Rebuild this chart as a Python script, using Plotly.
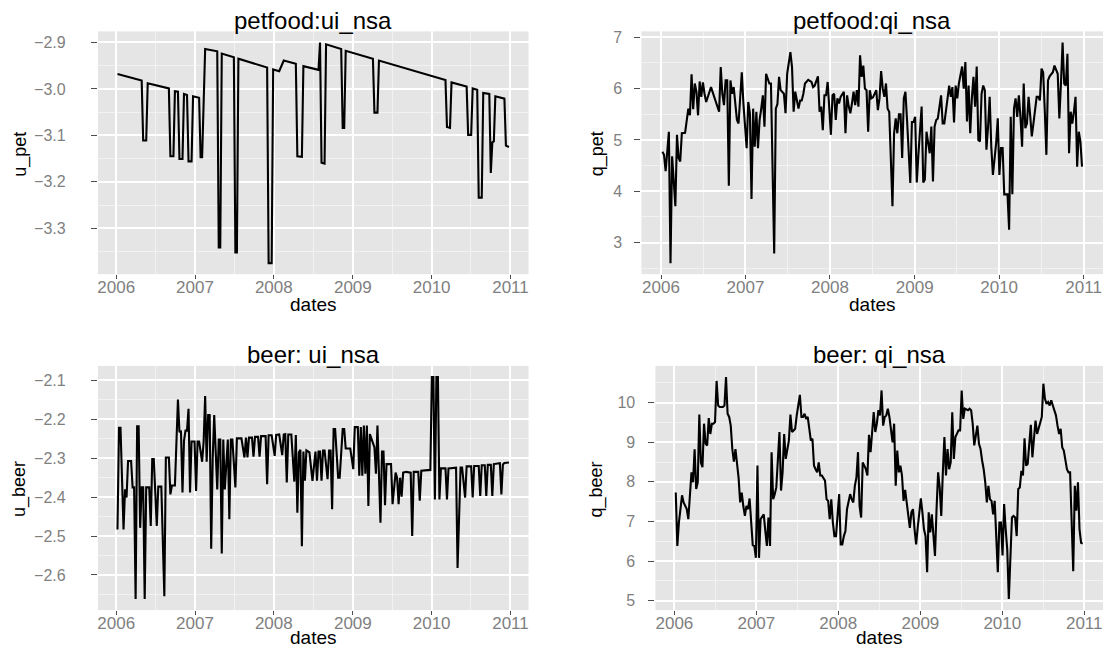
import numpy as np
import pandas as pd
import plotly.graph_objects as go

# ---------------- data (weekly observations, week index from 2006-01-07) ----------------
START = "2006-01-07"

pet_u_week = [0, 16, 17, 19, 20, 34, 35, 37, 38, 40, 41, 43, 44, 46, 47, 49, 50, 54, 55, 56, 58,
              66, 67, 68, 69, 77, 78, 79, 80, 99, 100, 102, 103, 107, 110, 118, 119, 122, 123,
              133, 134, 135, 137, 138, 148, 149, 150, 151, 169, 170, 172, 173, 217, 218, 220, 221,
              231, 232, 234, 235, 238, 239, 241, 242, 246, 247, 248, 249, 250, 256, 257, 259]
pet_u = [-2.968, -2.982, -3.111, -3.111, -2.988, -2.999, -3.145, -3.145, -3.005, -3.006, -3.151,
         -3.151, -3.011, -3.013, -3.156, -3.156, -3.016, -3.019, -3.147, -3.147, -2.914, -2.919,
         -3.341, -3.341, -2.924, -2.932, -3.352, -3.352, -2.935, -2.954, -3.375, -3.375, -2.958,
         -2.962, -2.939, -2.946, -3.145, -3.146, -2.951, -2.959, -2.900, -3.159, -3.161, -2.904,
         -2.914, -3.084, -3.084, -2.918, -2.935, -3.051, -3.051, -2.939, -2.981, -3.082, -3.084,
         -2.986, -2.995, -3.099, -3.099, -2.999, -3.002, -3.234, -3.234, -3.009, -3.011, -3.181,
         -3.115, -3.113, -3.016, -3.021, -3.122, -3.125]

pet_q_week = [0, 1, 2, 4, 5, 6, 8, 9, 10, 11, 12, 14, 16, 17, 18, 19, 20, 21, 22, 23, 24, 25, 26, 27,
              30, 33, 35, 36, 37, 38, 39, 40, 41, 42, 43, 44, 46, 47, 49, 50, 51, 52, 53, 54, 55, 56,
              57, 58, 59, 60, 61, 62, 63, 64, 66, 67, 69, 70, 71, 72, 73, 75, 76, 77, 79, 80, 81, 82,
              84, 85, 86, 87, 88, 90, 92, 93, 94, 96, 97, 98, 99, 100, 101, 102, 104, 105, 106, 107,
              108, 109, 110, 112, 113, 114, 115, 116, 117, 118, 119, 120, 121, 122, 123, 124, 125,
              126, 127, 128, 129, 130, 132, 133, 134, 135, 136, 137, 138, 139, 140, 142, 143, 144,
              145, 146, 147, 148, 149, 150, 151, 153, 154, 155, 156, 157, 158, 160, 161, 162, 163,
              164, 165, 166, 167, 168, 169, 170, 172, 173, 174, 176, 177, 178, 179, 180, 181, 182,
              183, 185, 186, 187, 188, 189, 190, 191, 192, 193, 194, 195, 196, 197, 198, 199, 200,
              201, 202, 203, 204, 206, 207, 208, 209, 210, 211, 213, 214, 215, 216, 217, 218, 219,
              220, 221, 222, 223, 224, 225, 226, 227, 228, 229, 230, 231, 232, 233, 234, 235, 236,
              237, 238, 239, 241, 242, 244, 245, 246, 247, 248, 249, 250, 251, 252, 253, 254, 255,
              256, 257, 258, 259]
pet_q = [4.77, 4.71, 4.39, 5.16, 2.60, 4.68, 3.71, 5.10, 4.65, 4.58, 5.13, 5.14, 5.61, 5.48, 6.28,
         5.60, 6.10, 5.94, 5.48, 6.14, 5.84, 6.12, 5.90, 5.74, 6.03, 5.74, 5.55, 6.42, 5.90, 5.68,
         6.16, 6.16, 4.11, 6.16, 5.90, 6.03, 5.39, 5.32, 6.32, 5.71, 5.26, 4.84, 5.74, 5.52, 3.85,
         5.61, 4.87, 5.55, 4.84, 5.39, 5.61, 5.87, 5.26, 6.29, 6.10, 6.10, 2.79, 5.61, 5.70, 6.23,
         5.97, 5.90, 5.52, 6.29, 6.71, 6.42, 5.55, 5.94, 5.61, 5.77, 5.77, 5.90, 6.10, 6.17, 6.13,
         6.03, 6.06, 6.24, 5.55, 5.65, 5.19, 5.87, 5.87, 6.13, 5.10, 5.87, 5.90, 5.39, 5.81, 5.71,
         5.84, 5.94, 5.13, 5.87, 5.65, 5.52, 5.71, 5.94, 5.68, 5.97, 5.65, 6.65, 6.23, 6.45, 6.00,
         5.97, 5.16, 5.97, 5.81, 5.83, 5.97, 5.58, 5.81, 6.34, 6.00, 5.84, 6.10, 5.61, 5.55, 3.71,
         5.13, 5.42, 5.13, 5.50, 5.50, 4.65, 5.81, 5.94, 5.39, 4.16, 5.35, 5.35, 5.45, 4.17, 4.71,
         5.65, 4.17, 4.23, 5.16, 4.97, 4.74, 5.26, 4.19, 5.26, 5.39, 5.42, 5.87, 5.32, 5.32, 5.81,
         6.06, 5.84, 6.03, 5.34, 6.06, 5.81, 6.10, 6.43, 6.00, 6.52, 5.36, 6.06, 5.13, 5.81, 6.23,
         5.65, 6.43, 5.00, 4.97, 5.90, 6.06, 5.97, 4.81, 5.26, 5.84, 4.87, 4.32, 4.94, 5.42, 4.32,
         4.84, 4.84, 3.94, 3.94, 3.25, 5.45, 3.94, 5.61, 5.81, 5.45, 5.87, 5.45, 4.87, 6.10, 5.23,
         5.32, 5.84, 5.48, 5.07, 5.32, 5.58, 5.84, 5.84, 5.77, 6.39, 6.32, 5.58, 4.71, 6.16, 6.24,
         6.32, 6.45, 6.29, 5.42, 6.10, 6.90, 6.10, 6.06, 6.68, 4.74, 5.55, 5.32, 5.55, 5.84, 4.48,
         5.16, 4.97, 4.48]

beer_u_week = [0, 1, 2, 4, 5, 6, 7, 9, 10, 11, 12, 13, 14, 15, 16, 17, 18, 19, 21, 22, 23, 24, 26,
               27, 29, 31, 32, 34, 35, 36, 38, 40, 41, 42, 43, 44, 45, 46, 47, 48, 49, 51, 52, 53,
               54, 56, 57, 58, 59, 60, 61, 62, 63, 64, 66, 67, 68, 69, 70, 71, 73, 74, 75, 76, 78,
               79, 82, 84, 85, 86, 87, 89, 90, 91, 93, 94, 95, 98, 99, 100, 102, 104, 105, 107, 109,
               110, 111, 112, 113, 115, 117, 118, 119, 120, 121, 122, 123, 124, 125, 127, 129, 131,
               132, 133, 134, 135, 136, 137, 139, 140, 141, 142, 143, 144, 146, 147, 149, 150, 151,
               154, 156, 157, 159, 160, 161, 162, 163, 164, 165, 166, 167, 169, 170, 171, 172, 174,
               175, 176, 177, 178, 181, 182, 184, 185, 186, 187, 188, 189, 191, 194, 195, 196, 199,
               200, 201, 207, 208, 209, 210, 211, 212, 213, 214, 217, 218, 219, 224, 225, 227, 228,
               230, 231, 234, 235, 236, 239, 240, 241, 243, 244, 245, 247, 248, 249, 253, 254, 255,
               256, 259]
beer_u = [-2.483, -2.222, -2.222, -2.483, -2.380, -2.401, -2.307, -2.307, -2.375, -2.375, -2.662,
          -2.218, -2.218, -2.479, -2.375, -2.375, -2.662, -2.375, -2.375, -2.474, -2.302, -2.302,
          -2.474, -2.373, -2.373, -2.655, -2.298, -2.298, -2.393, -2.370, -2.370, -2.149, -2.233,
          -2.229, -2.388, -2.255, -2.229, -2.229, -2.173, -2.388, -2.257, -2.257, -2.384, -2.257,
          -2.257, -2.309, -2.257, -2.140, -2.309, -2.189, -2.189, -2.533, -2.300, -2.189, -2.380,
          -2.252, -2.252, -2.545, -2.252, -2.380, -2.252, -2.457, -2.252, -2.252, -2.375, -2.249,
          -2.249, -2.298, -2.247, -2.298, -2.247, -2.247, -2.296, -2.245, -2.245, -2.296, -2.243,
          -2.243, -2.367, -2.241, -2.241, -2.294, -2.240, -2.239, -2.292, -2.239, -2.238, -2.362,
          -2.239, -2.239, -2.360, -2.240, -2.440, -2.285, -2.278, -2.526, -2.283, -2.358, -2.280,
          -2.285, -2.358, -2.283, -2.358, -2.283, -2.283, -2.358, -2.280, -2.280, -2.354, -2.280,
          -2.280, -2.431, -2.225, -2.225, -2.350, -2.350, -2.225, -2.225, -2.275, -2.275, -2.328,
          -2.220, -2.220, -2.345, -2.220, -2.345, -2.216, -2.340, -2.216, -2.423, -2.238, -2.263,
          -2.272, -2.340, -2.216, -2.466, -2.283, -2.283, -2.421, -2.315, -2.315, -2.418, -2.337,
          -2.350, -2.418, -2.350, -2.399, -2.337, -2.335, -2.337, -2.500, -2.335, -2.335, -2.409,
          -2.332, -2.330, -2.091, -2.091, -2.406, -2.091, -2.091, -2.406, -2.326, -2.326, -2.406,
          -2.326, -2.324, -2.582, -2.324, -2.324, -2.401, -2.321, -2.321, -2.401, -2.320, -2.320,
          -2.397, -2.318, -2.318, -2.397, -2.317, -2.317, -2.397, -2.315, -2.313, -2.393, -2.316,
          -2.312, -2.311]

beer_q_week = [0, 1, 2, 4, 5, 7, 8, 9, 10, 11, 12, 13, 14, 15, 16, 17, 18, 19, 20, 21, 22, 23, 24,
               25, 26, 27, 28, 30, 31, 32, 33, 34, 35, 36, 37, 38, 39, 40, 41, 42, 43, 44, 45, 46,
               47, 48, 49, 50, 51, 52, 53, 54, 55, 56, 57, 58, 59, 60, 61, 62, 63, 64, 66, 67, 68,
               69, 70, 71, 72, 73, 74, 75, 76, 77, 78, 79, 80, 81, 82, 83, 84, 85, 86, 87, 88, 89,
               90, 91, 92, 93, 94, 95, 96, 97, 98, 99, 100, 101, 102, 103, 104, 105, 106, 107, 108,
               109, 110, 111, 112, 113, 114, 115, 116, 117, 118, 119, 120, 121, 122, 123, 124, 125,
               126, 127, 128, 129, 130, 131, 132, 133, 134, 135, 136, 138, 139, 140, 141, 142, 143,
               144, 145, 146, 147, 148, 149, 150, 151, 152, 153, 154, 156, 157, 158, 159, 160, 161,
               162, 163, 165, 166, 167, 168, 169, 170, 171, 172, 173, 174, 175, 176, 177, 178, 180,
               181, 182, 183, 184, 186, 187, 188, 189, 190, 192, 193, 194, 195, 196, 197, 198, 199,
               200, 201, 202, 203, 205, 206, 207, 208, 209, 210, 211, 212, 213, 214, 215, 216, 217,
               218, 219, 220, 221, 222, 223, 224, 226, 227, 228, 229, 230, 231, 232, 233, 234, 235,
               236, 237, 238, 239, 240, 242, 243, 244, 245, 246, 247, 248, 249, 250, 251, 253, 254,
               255, 256, 257, 258, 259]
beer_q = [7.73, 6.38, 6.97, 7.66, 7.48, 7.31, 7.06, 7.65, 8.24, 7.99, 8.82, 7.82, 7.99, 9.70, 8.49,
          8.37, 9.47, 8.96, 8.92, 9.61, 9.21, 9.47, 9.47, 9.51, 10.55, 9.93, 9.89, 9.89, 9.93, 10.65,
          9.72, 9.64, 9.42, 8.83, 8.51, 8.83, 8.45, 8.10, 7.48, 7.73, 7.39, 7.14, 7.39, 7.31, 7.58,
          7.06, 6.40, 6.38, 6.08, 8.41, 6.08, 7.06, 7.14, 7.18, 6.76, 6.38, 7.10, 6.38, 8.75, 7.56,
          7.69, 7.86, 9.26, 7.78, 8.24, 9.21, 8.58, 8.79, 9.04, 9.70, 9.26, 9.30, 9.34, 9.68, 9.93,
          10.20, 9.64, 9.64, 9.72, 9.59, 9.64, 9.34, 9.04, 9.09, 8.41, 8.32, 8.24, 8.49, 8.16, 8.16,
          8.11, 8.03, 7.56, 7.52, 7.06, 7.56, 6.97, 6.63, 6.63, 7.31, 7.69, 6.42, 6.42, 6.63, 6.76,
          7.31, 7.48, 7.69, 7.56, 7.48, 7.90, 8.11, 8.75, 7.39, 7.10, 8.49, 8.41, 8.32, 8.16, 9.19,
          8.75, 9.19, 9.76, 9.26, 9.47, 9.81, 9.68, 10.31, 9.42, 9.64, 9.68, 9.85, 9.64, 9.00, 9.47,
          7.90, 8.79, 8.24, 8.41, 8.16, 7.52, 7.80, 7.48, 7.31, 6.84, 7.23, 7.31, 6.80, 6.42, 6.84,
          7.58, 7.23, 6.80, 6.63, 5.72, 7.23, 6.72, 7.18, 6.13, 7.31, 8.24, 7.86, 7.14, 8.24, 9.13,
          8.16, 8.83, 8.32, 8.49, 9.76, 8.58, 9.13, 9.30, 9.30, 10.31, 9.59, 9.85, 9.81, 9.85, 9.81,
          9.47, 8.92, 9.42, 8.96, 8.83, 8.54, 8.32, 7.99, 7.48, 7.90, 7.56, 7.52, 7.18, 7.52, 5.72,
          6.97, 6.97, 6.14, 7.44, 6.80, 6.29, 5.04, 6.20, 7.10, 7.14, 7.10, 6.63, 7.82, 7.86, 8.28,
          8.16, 9.10, 8.41, 8.45, 9.44, 8.62, 9.09, 9.55, 9.21, 9.34, 9.47, 9.64, 10.48, 10.10, 9.97,
          10.02, 9.93, 10.06, 9.93, 9.68, 9.42, 9.21, 9.34, 8.87, 8.79, 8.49, 8.32, 8.24, 8.24, 5.74,
          7.90, 7.27, 7.99, 6.80, 6.46, 6.44]

titles = ["petfood:ui_nsa", "petfood:qi_nsa", "beer: ui_nsa", "beer: qi_nsa"]
y_titles = ["u_pet", "q_pet", "u_beer", "q_beer"]
x_title = "dates"
year_ticks = ["2006", "2007", "2008", "2009", "2010", "2011"]

series = [(pet_u_week, pet_u), (pet_q_week, pet_q), (beer_u_week, beer_u), (beer_q_week, beer_q)]
y_dticks = [0.1, 1, 0.1, 1]
y_formats = [".1f", "d", ".1f", "d"]


def to_dates(weeks):
    return pd.Timestamp(START) + pd.to_timedelta(np.asarray(weeks) * 7, unit="D")


# ---------------- layout (pixel boxes of the four panels) ----------------
W, H = 1107, 648
boxes = [(97, 528, 29.5, 273), (641, 1103, 29.5, 273), (97, 528, 365, 610), (655, 1103, 365, 610)]
ytitle_x = [20, 597, 19, 597]
ylabel_standoff = [22, 9, 22, 10]
xtitle_offset = [30, 30, 27, 27]

FONT = "Liberation Sans"
TICK_GREY = "#7F7F7F"
BG = "#E5E5E5"
MINOR = "#F2F2F2"

fig = go.Figure()
annotations = []
layout = {}
for i, ((wk, vals), (x0, x1, y0, y1)) in enumerate(zip(series, boxes)):
    n = "" if i == 0 else str(i + 1)
    d = to_dates(wk)
    fig.add_trace(go.Scatter(x=d, y=vals, mode="lines", line=dict(color="black", width=2.1),
                             xaxis="x" + n, yaxis="y" + n, showlegend=False, hoverinfo="skip"))
    dmin, dmax = d.min(), d.max()
    pad = (dmax - dmin) * 0.05
    vmin, vmax = min(vals), max(vals)
    vpad = (vmax - vmin) * 0.05
    dt = y_dticks[i]
    layout["xaxis" + n] = dict(
        type="date", domain=[x0 / W, x1 / W], anchor="y" + n,
        range=[dmin - pad, dmax + pad], tickmode="array",
        tickvals=[pd.Timestamp(y + "-01-01") for y in year_ticks], ticktext=year_ticks,
        showgrid=True, gridcolor="white", gridwidth=1.7, zeroline=False, showline=False,
        ticks="outside", ticklen=4, tickwidth=1, tickcolor="#4D4D4D",
        ticklabelstandoff=-7,
        tickfont=dict(family=FONT, size=17, color=TICK_GREY),
        minor=dict(tickmode="array",
                   tickvals=[pd.Timestamp(y + "-07-02") for y in year_ticks],
                   showgrid=True, gridcolor=MINOR, gridwidth=0.9, ticks=""),
    )
    layout["yaxis" + n] = dict(
        domain=[1 - y1 / H, 1 - y0 / H], anchor="x" + n,
        range=[vmin - vpad, vmax + vpad], dtick=dt, tick0=0, tickformat=y_formats[i],
        showgrid=True, gridcolor="white", gridwidth=1.7, zeroline=False, showline=False,
        ticks="outside", ticklen=6, tickwidth=1, tickcolor="#4D4D4D",
        ticklabelstandoff=ylabel_standoff[i],
        tickfont=dict(family=FONT, size=16, color=TICK_GREY),
        minor=dict(dtick=dt / 2, tick0=0, showgrid=True, gridcolor=MINOR, gridwidth=0.9, ticks=""),
    )
    cx = (x0 + x1) / 2 / W
    annotations.append(dict(text=titles[i], x=cx, y=1 - (y0 - 11) / H, xref="paper", yref="paper",
                            xanchor="center", yanchor="middle", showarrow=False,
                            font=dict(family=FONT, size=24, color="black")))
    annotations.append(dict(text=x_title, x=cx, y=1 - (y1 + xtitle_offset[i]) / H,
                            xref="paper", yref="paper",
                            xanchor="center", yanchor="middle", showarrow=False,
                            font=dict(family=FONT, size=19, color="black")))
    annotations.append(dict(text=y_titles[i], x=ytitle_x[i] / W, y=1 - ((y0 + y1) / 2 + 1) / H,
                            xref="paper", yref="paper", xanchor="center", yanchor="middle",
                            textangle=-90, showarrow=False,
                            font=dict(family=FONT, size=18, color="black")))

fig.update_layout(
    width=W, height=H, margin=dict(l=0, r=0, t=0, b=0, pad=0),
    paper_bgcolor="white", plot_bgcolor=BG, showlegend=False,
    annotations=annotations, **layout,
)

fig.write_html("out.html")
